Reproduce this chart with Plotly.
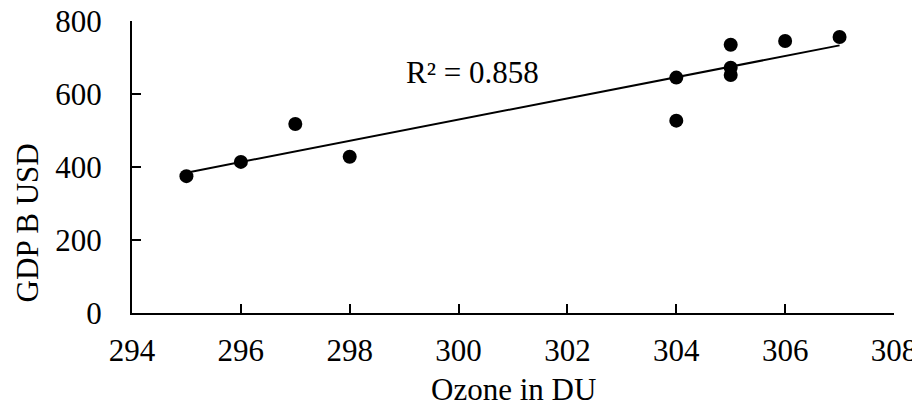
import numpy as np
import plotly.graph_objects as go

ozone_du = [295, 296, 297, 298, 304, 304, 305, 305, 305, 306, 307]
gdp_busd = [375, 414, 518, 428, 645, 527, 735, 672, 652, 745, 756]
x_ticks = [294, 296, 298, 300, 302, 304, 306, 308]
y_ticks = [0, 200, 400, 600, 800]
r2_label = "R² = 0.858"

slope, intercept = np.polyfit(ozone_du, gdp_busd, 1)
xl = np.array([min(ozone_du), max(ozone_du)])
yl = slope * xl + intercept

FONT = "Liberation Serif, Times New Roman, DejaVu Serif, serif"
fig = go.Figure()
fig.add_trace(go.Scatter(x=xl, y=yl, mode="lines",
                         line=dict(color="black", width=2), hoverinfo="skip"))
fig.add_trace(go.Scatter(x=ozone_du, y=gdp_busd, mode="markers",
                         marker=dict(color="black", size=14)))

axis_common = dict(ticks="inside", ticklen=9, tickwidth=2, tickcolor="black",
                   showline=True, linewidth=2, linecolor="black",
                   showgrid=False, zeroline=False, automargin=False,
                   ticklabeloverflow="allow")

fig.update_layout(
    width=912, height=395,
    margin=dict(l=123.5, r=26, t=12.7, b=89.7, autoexpand=False),
    paper_bgcolor="white", plot_bgcolor="white",
    showlegend=False,
    font=dict(family=FONT, size=31, color="black"),
    xaxis=dict(range=[294, 308], tickvals=x_ticks, ticklabelstandoff=9,
               **axis_common),
    yaxis=dict(range=[0, 800], tickvals=y_ticks, ticklabelstandoff=22,
               **axis_common),
    annotations=[
        dict(text=r2_label, xref="paper", yref="paper", x=0.447, y=0.822,
             showarrow=False, xanchor="center", yanchor="middle",
             font=dict(family=FONT, size=31)),
        dict(text="GDP B USD", xref="paper", yref="paper", x=-0.137, y=0.309,
             showarrow=False, textangle=-90, xanchor="center", yanchor="middle",
             font=dict(family=FONT, size=31)),
        dict(text="Ozone in DU", xref="paper", yref="paper", x=0.5, y=-0.262,
             showarrow=False, xanchor="center", yanchor="middle",
             font=dict(family=FONT, size=31)),
    ],
)
fig.write_html("out.html")
